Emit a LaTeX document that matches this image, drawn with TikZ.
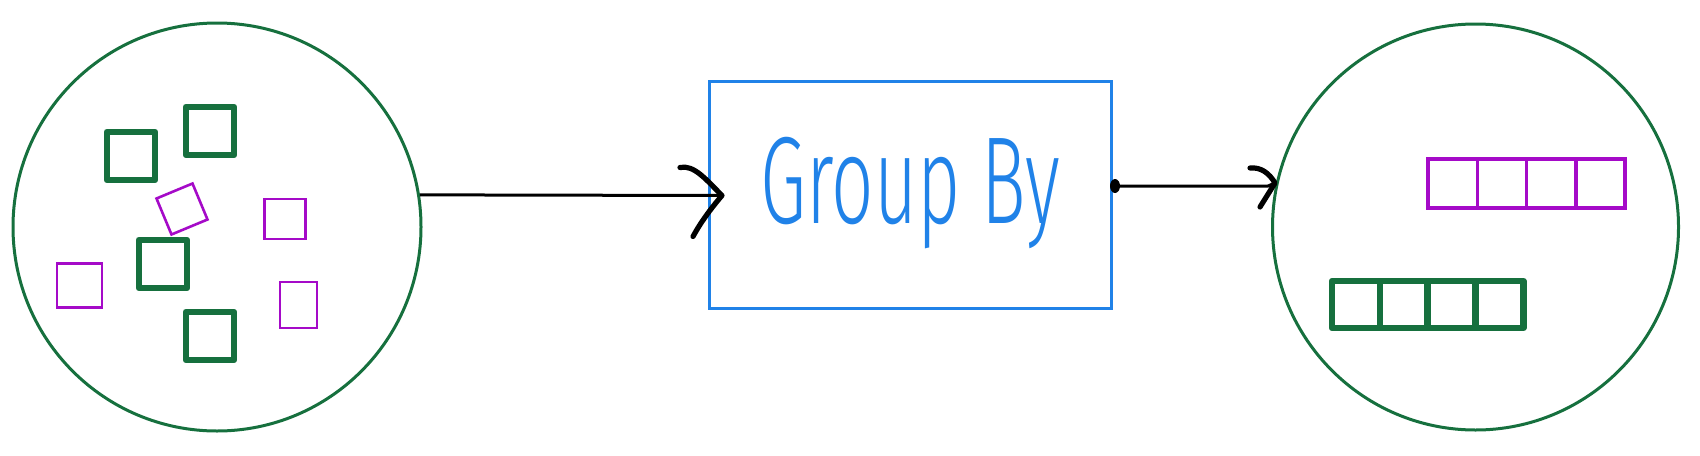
\documentclass[tikz,border=0pt]{standalone}
\usepackage{fontspec}
\newfontfamily\hand{Fira Sans Light}
\usetikzlibrary{calc}
\definecolor{cgreen}{RGB}{22,112,62}
\definecolor{cpurple}{RGB}{165,10,200}
\definecolor{cblue}{RGB}{32,130,232}
\tikzset{
  setring/.style={circle, draw=cgreen, line width=1.5pt, inner sep=0pt, minimum size=#1},
  gsq/.style={rectangle, draw=cgreen, line width=3.3pt, line join=round, inner sep=0pt, minimum size=24pt},
  psq/.style={rectangle, draw=cpurple, line width=1.3pt, inner sep=0pt},
  gcell/.style={rectangle, draw=cgreen, line width=3.3pt, line join=round, inner sep=0pt, outer sep=0pt, minimum width=23.9pt, minimum height=23.5pt},
  pcell/.style={rectangle, draw=cpurple, line width=1.7pt, inner sep=0pt, outer sep=0pt, minimum width=24.65pt, minimum height=24.5pt},
  opbox/.style={rectangle, draw=cblue, line width=1.5pt, inner sep=0pt, minimum width=201pt, minimum height=113.5pt},
  conn/.style={draw=black, line width=1.5pt},
  head/.style={draw=black, line width=2.6pt, line cap=round, line join=round},
}
\begin{document}
\begin{tikzpicture}[x=0.5pt, y=-0.5pt]
\useasboundingbox (0,0) rectangle (1700,455);
% left set
\node[setring=204pt] (in) at (217,227) {};
\node[gsq] (ga) at (131,156) {};
\node[gsq] (gb) at (210,131) {};
\node[gsq] (gc) at (163,264) {};
\node[gsq] (gd) at (210,336) {};
\node[psq, minimum size=19.5pt, rotate=22.6] (pa) at (182,209) {};
\node[psq, minimum width=20.5pt, minimum height=20pt] (pb) at (285,219) {};
\node[psq, minimum width=22.5pt, minimum height=22pt] (pc) at (79.5,285.5) {};
\node[psq, minimum width=18.5pt, minimum height=23pt] (pd) at (298.5,305) {};
% operation box
\node[opbox] (op) at (910,194.5) {};
\node[anchor=base west, text=cblue, inner sep=0pt] (lbl) at (760,223)
  {\scalebox{0.6}[1]{\hand\fontsize{62pt}{62pt}\selectfont Group By}};
% right set
\node[setring=203pt] (out) at (1475.5,227) {};
\node[pcell] (p1) at (1452.6,183.5) {};
\node[pcell, anchor=west] (p2) at (p1.east) {};
\node[pcell, anchor=west] (p3) at (p2.east) {};
\node[pcell, anchor=west] (p4) at (p3.east) {};
\node[gcell] (g1) at (1355.9,304.5) {};
\node[gcell, anchor=west] (g2) at (g1.east) {};
\node[gcell, anchor=west] (g3) at (g2.east) {};
\node[gcell, anchor=west] (g4) at (g3.east) {};
% arrow 1
\coordinate (t1) at (722,195.5);
\draw[conn] (in.9.3) -- (t1);
\draw[head] ($(t1)+(-42,-28)$) .. controls ($(t1)+(-28,-31)$) and ($(t1)+(-16,-16)$) .. (t1) .. controls ($(t1)+(-12,14)$) and ($(t1)+(-22,28)$) .. ($(t1)+(-29,41)$);
% arrow 2
\coordinate (d2) at (1115,186);
\coordinate (t2) at (1275,183);
\fill[black] (d2) ellipse (5 and 7);
\draw[conn] (d2) -- (1268,186) -- (t2);
\draw[head] ($(t2)+(-25,-15)$) .. controls ($(t2)+(-14,-16)$) and ($(t2)+(-6,-10)$) .. (t2) -- ($(t2)+(-15,24)$);
\end{tikzpicture}
\end{document}
